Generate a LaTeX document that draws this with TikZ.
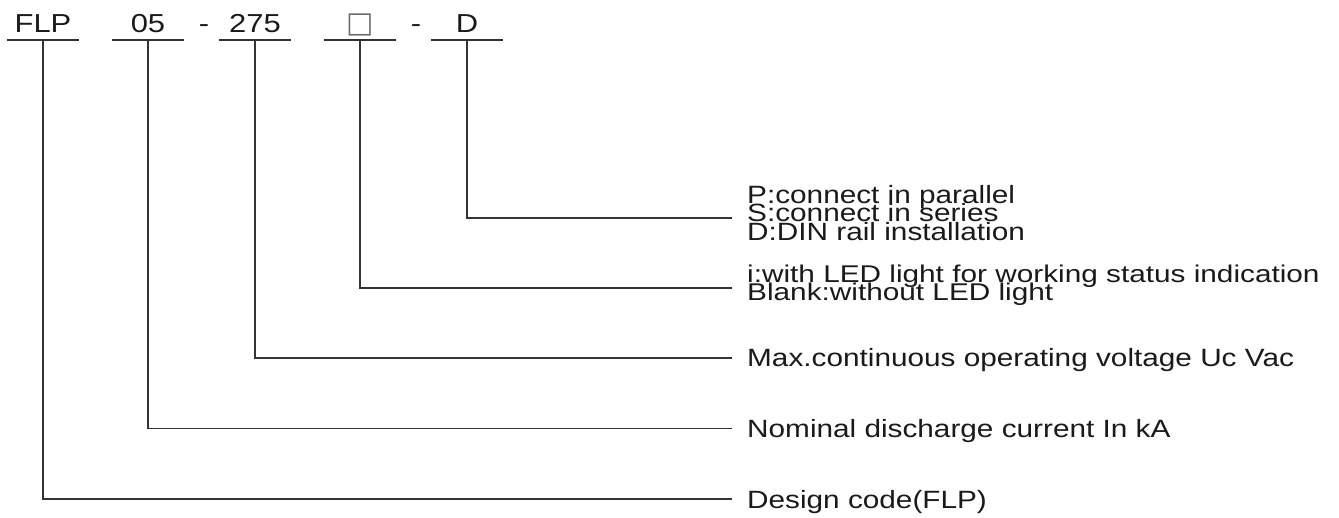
\documentclass[tikz,border=0pt]{standalone}
\usepackage{fontspec}
\setmainfont{Liberation Sans}
\newfontfamily\symfont{DejaVu Sans}
\usepackage{graphicx}
\newcommand{\sx}[1]{\scalebox{1.19}[1]{#1}}
\definecolor{ink}{HTML}{1A1A1A}
\definecolor{wire}{HTML}{333333}
\definecolor{boxgray}{HTML}{6A6A6A}
\begin{document}
\begin{tikzpicture}[x=1pt,y=-1pt,
  code/.style={minimum width=71pt, inner xsep=0pt, inner ysep=0pt,
    text height=19pt, text depth=7pt, anchor=south,
    font=\fontsize{26}{26}\selectfont, text=ink},
  hyph/.style={anchor=base, inner sep=0pt, font=\fontsize{26}{26}\selectfont, text=ink},
  lbl/.style={anchor=west, inner xsep=15pt, inner ysep=0pt,
    text height=18pt, text depth=0pt,
    font=\fontsize{25}{17.5}\selectfont, text=ink},
  multi/.style={anchor=west, inner xsep=15pt, inner ysep=0pt, text=ink},
  wireline/.style={draw=wire, line width=1.6pt},
]
\useasboundingbox (0,0) rectangle (1339,518);

% code segments
\node[code] (flp)  at (43,40)  {\sx{FLP}};
\node[code] (c05)  at (148,40) {\sx{05}};
\node[code] (c275) at (255,40) {\sx{275}};
\node[code, text=boxgray, font=\fontsize{29}{29}\symfont] (opt) at (360,40) {□};
\node[code] (cd)   at (467,40) {\sx{D}};
\node[hyph] (hy1) at (204,33) {\sx{-}};
\node[hyph] (hy2) at (416,33) {\sx{-}};

% underlines
\foreach \n in {flp,c05,c275,opt,cd}
  \draw[wireline] (\n.south west) -- (\n.south east);

% labels
\node[multi, font=\fontsize{25}{18.5}\selectfont] (psd) at (732,218) {\sx{\begin{tabular}{@{}l@{}}\smash{P:connect in parallel}\\ \smash{S:connect in series}\\ \smash{D:DIN rail installation}\end{tabular}}};
\node[multi, font=\fontsize{24.2}{17.5}\selectfont] (led) at (732,288) {\scalebox{1.23}[1]{\begin{tabular}{@{}l@{}}\smash{i:with LED light for working status indication}\\ \smash{Blank:without LED light}\end{tabular}}};
\node[lbl] (maxv) at (732,358) {\sx{Max.continuous operating voltage Uc Vac}};
\node[lbl] (nominal) at (732,428.5) {\sx{Nominal discharge current In kA}};
\node[lbl] (design) at (732,499) {\sx{Design code(FLP)}};

% connectors
\draw[wireline] (cd.south) |- (psd.west);
\draw[wireline] (opt.south) |- (led.west);
\draw[wireline] (c275.south) |- (maxv.west);
\draw[wireline] (c05.south) |- (nominal.west);
\draw[wireline] (flp.south) |- (design.west);
\end{tikzpicture}
\end{document}
